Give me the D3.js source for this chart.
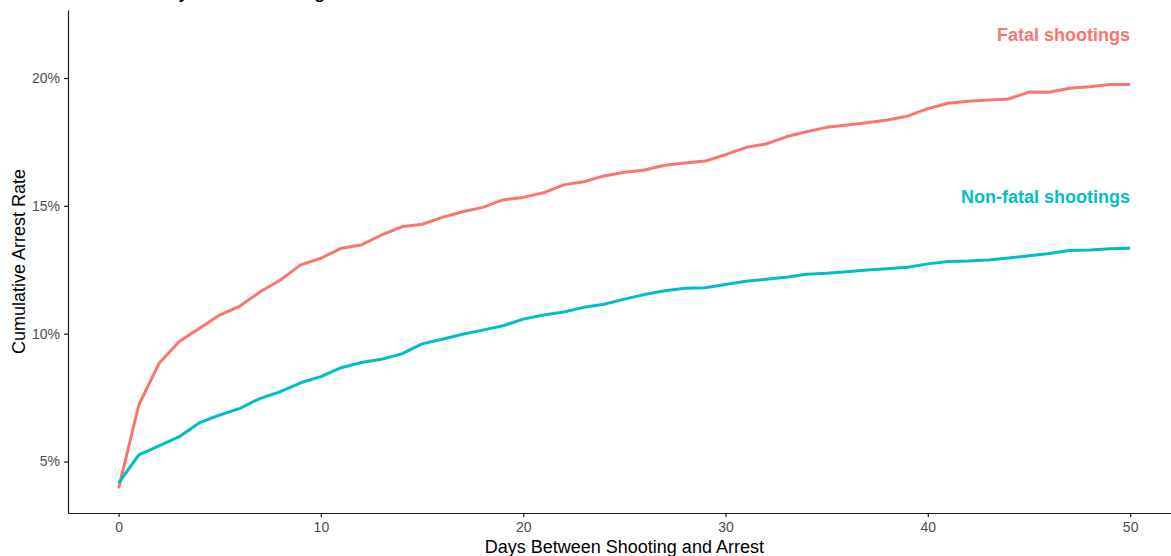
<!DOCTYPE html>
<html>
<head>
<meta charset="utf-8">
<script src="https://cdn.jsdelivr.net/npm/d3@7"></script>
<style>
  html, body { margin: 0; padding: 0; background: #fff; }
  svg { display: block; font-family: "Liberation Sans", Arial, Helvetica, sans-serif; }
</style>
</head>
<body>
<svg id="chart" width="1171" height="556"></svg>
<script>
// ---- Data ----
const days = d3.range(0, 51);
const fatalRate = [
  3.95, 7.21, 8.84, 9.69, 10.21, 10.73, 11.08, 11.64, 12.10, 12.69,
  12.95, 13.34, 13.47, 13.86, 14.18, 14.28, 14.55, 14.77, 14.94, 15.23,
  15.33, 15.51, 15.82, 15.94, 16.17, 16.31, 16.40, 16.59, 16.68, 16.75,
  17.00, 17.28, 17.42, 17.70, 17.90, 18.07, 18.16, 18.25, 18.36, 18.51,
  18.80, 19.01, 19.09, 19.14, 19.18, 19.45, 19.44, 19.60, 19.66, 19.75,
  19.75
];
const nonFatalRate = [
  4.15, 5.26, 5.61, 5.97, 6.52, 6.82, 7.08, 7.47, 7.73, 8.08,
  8.32, 8.67, 8.87, 9.00, 9.21, 9.60, 9.78, 9.98, 10.14, 10.31,
  10.57, 10.73, 10.85, 11.03, 11.15, 11.35, 11.53, 11.68, 11.78, 11.80,
  11.92, 12.05, 12.13, 12.21, 12.32, 12.36, 12.42, 12.49, 12.54, 12.60,
  12.73, 12.82, 12.84, 12.88, 12.96, 13.05, 13.14, 13.25, 13.27, 13.32,
  13.34
];
const seriesNames = ["Fatal shootings", "Non-fatal shootings"];
const seriesColors = ["#F8766D", "#00BFC4"];
const seriesLabelY = [21.45, 15.1];   // label positions in data units (%)
const xTicks = [0, 10, 20, 30, 40, 50];
const yTicks = [5, 10, 15, 20];
const titleText = "Arrest rates by kind of shooting";
const xTitle = "Days Between Shooting and Arrest";
const yTitle = "Cumulative Arrest Rate";

// ---- Layout ----
const svg = d3.select("#chart");
const panel = { left: 68, top: 10, bottom: 513, right: 1180.7 };

const x = d3.scaleLinear().domain([-2.5, 52.5]).range([panel.left, panel.right]);
const y = d3.scaleLinear().domain([2.986, 22.66]).range([panel.bottom, panel.top]);

// Title (cropped at top edge in reference: only descenders visible)
svg.append("text")
  .attr("x", panel.left)
  .attr("y", -1.5)
  .attr("font-size", 17)
  .attr("font-weight", "bold")
  .attr("fill", "#000")
  .text(titleText);

// Lines
const line = d3.line().x((d, i) => x(days[i])).y(d => y(d));
[fatalRate, nonFatalRate].forEach((vals, k) => {
  svg.append("path")
    .datum(vals)
    .attr("fill", "none")
    .attr("stroke", seriesColors[k])
    .attr("stroke-width", 3)
    .attr("stroke-linejoin", "round")
    .attr("d", line);
});

// Series labels
seriesNames.forEach((name, k) => {
  svg.append("text")
    .attr("x", x(50))
    .attr("y", y(seriesLabelY[k]))
    .attr("text-anchor", "end")
    .attr("font-size", 18)
    .attr("font-weight", "bold")
    .attr("fill", seriesColors[k])
    .text(name);
});

// Axes
const xAxis = d3.axisBottom(x).tickValues(xTicks).tickSize(4).tickSizeOuter(0).tickPadding(5);
const yAxis = d3.axisLeft(y).tickValues(yTicks).tickSize(4).tickSizeOuter(0).tickPadding(4)
  .tickFormat(d => d + "%");

const gx = svg.append("g").attr("transform", `translate(0,${panel.bottom})`).call(xAxis);
const gy = svg.append("g").attr("transform", `translate(${panel.left},0)`).call(yAxis);

[gx, gy].forEach(g => {
  g.select(".domain").attr("stroke", "#1a1a1a").attr("stroke-width", 1.2);
  g.selectAll(".tick line").attr("stroke", "#1a1a1a").attr("stroke-width", 1.2);
  g.selectAll(".tick text")
    .attr("fill", "#4D4D4D")
    .attr("font-size", 14)
    .attr("font-family", "'Liberation Sans', Arial, Helvetica, sans-serif");
});

// Axis titles
svg.append("text")
  .attr("x", (x(0) + x(50)) / 2)
  .attr("y", 553)
  .attr("text-anchor", "middle")
  .attr("font-size", 18)
  .attr("fill", "#000")
  .text(xTitle);

svg.append("text")
  .attr("transform", `translate(25,${(panel.top + panel.bottom) / 2}) rotate(-90)`)
  .attr("text-anchor", "middle")
  .attr("font-size", 18)
  .attr("fill", "#000")
  .text(yTitle);
</script>
</body>
</html>
